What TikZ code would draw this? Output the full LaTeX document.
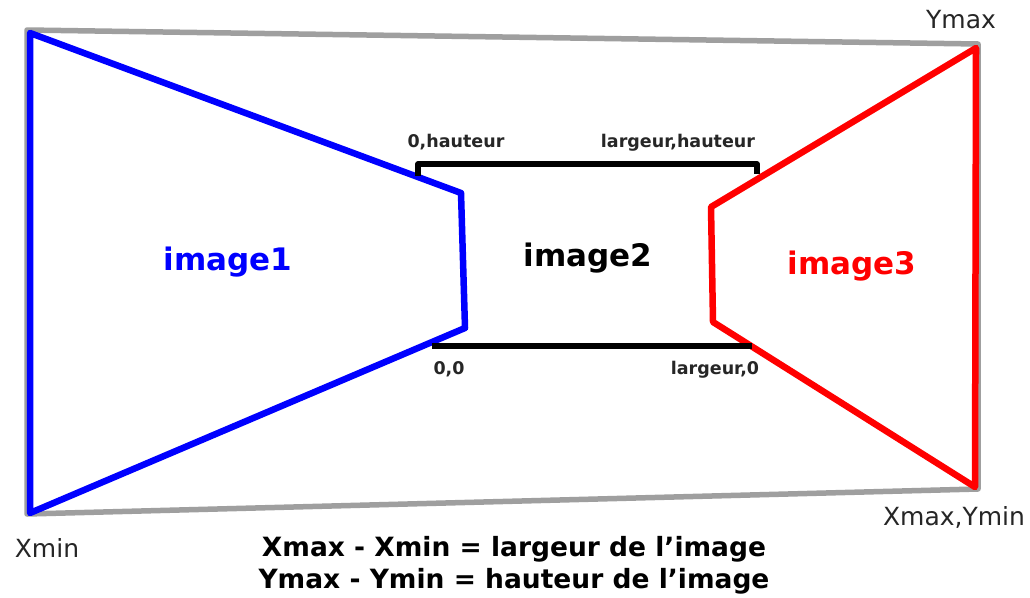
\documentclass[tikz,border=0pt]{standalone}
\usepackage{fontspec}
\setmainfont{DejaVu Sans}
\begin{document}
\begin{tikzpicture}[x=1pt,y=-1pt,
  frame/.style={draw=gray!75,line width=5.5pt,line join=round},
  poly/.style={line width=6.5pt,line join=round,line cap=round},
  small/.style={font=\bfseries\fontsize{17.5}{20}\selectfont,anchor=base,inner sep=0pt,text=black!85},
  big/.style={font=\bfseries\fontsize{31}{36}\selectfont,anchor=base,inner sep=0pt},
  corner/.style={font=\fontsize{25}{28}\selectfont,anchor=base,inner sep=0pt,text=black!85},
  formula/.style={font=\bfseries\fontsize{26.5}{30}\selectfont,anchor=base,inner sep=0pt}]
\useasboundingbox (0,0) rectangle (1030,597);
\fill[white] (0,0) rectangle (1030,597);
% frame corners
\coordinate (TL) at (27,30);
\coordinate (TR) at (978,44);
\coordinate (BR) at (978,489);
\coordinate (BL) at (27,514);
\draw[frame] (TL) -- (TR) -- (BR) -- (BL) -- cycle;
% image1
\coordinate (A1) at (30,33);
\coordinate (A2) at (461,193);
\coordinate (A3) at (465,328);
\coordinate (A4) at (30,513);
\draw[poly,blue] (A1) -- (A2) -- (A3) -- (A4) -- cycle;
% image3
\coordinate (C1) at (976,48);
\coordinate (C2) at (711,207);
\coordinate (C3) at (713,322);
\coordinate (C4) at (975,487);
\draw[poly,red] (C1) -- (C2) -- (C3) -- (C4) -- cycle;
% image2
\coordinate (B1) at (418,176);
\coordinate (B2) at (418,164);
\coordinate (B3) at (757,164);
\coordinate (B4) at (757,174);
\coordinate (B5) at (432,346);
\coordinate (B6) at (752,346);
\draw[line width=5.5pt,line join=round,black] (B1) -- (B2) -- (B3) -- (B4);
\draw[line width=5.5pt,black] (B5) -- (B6);
% labels
\node[small] (l1) at (456,147) {0,hauteur};
\node[small] (l2) at (678,147) {largeur,hauteur};
\node[small] (l3) at (449,374) {0,0};
\node[small] (l4) at (715,374) {largeur,0};
\node[big,text=blue] (i1) at (228,270) {image1};
\node[big,text=black] (i2) at (588,266) {image2};
\node[big,text=red] (i3) at (852,274) {image3};
\node[corner] (ymax) at (961,28) {Ymax};
\node[corner] (xmin) at (47,557) {Xmin};
\node[corner] (xmaxymin) at (954,525) {Xmax,Ymin};
\node[formula] (f1) at (514,556) {Xmax - Xmin = largeur de l’image};
\node[formula] (f2) at (514,588) {Ymax - Ymin = hauteur de l’image};
\end{tikzpicture}
\end{document}
